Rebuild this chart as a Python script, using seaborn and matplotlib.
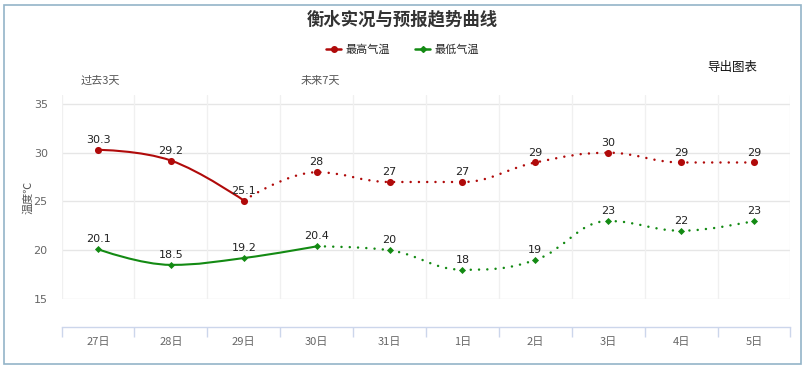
import seaborn as sns
import matplotlib.pyplot as plt
import numpy as np
import pandas as pd
from matplotlib.path import Path
from matplotlib.patches import PathPatch, Rectangle
from matplotlib.lines import Line2D

# --- data ---
days = ["27日", "28日", "29日", "30日", "31日", "1日", "2日", "3日", "4日", "5日"]
t_max = [30.3, 29.2, 25.1, 28, 27, 27, 29, 30, 29, 29]
t_min = [20.1, 18.5, 19.2, 20.4, 20, 18, 19, 23, 22, 23]
max_obs_end = 2   # last observed point of the max series (solid up to here)
min_obs_end = 3   # last observed point of the min series

sns.set_theme(style="white")
plt.rcParams['font.family'] = ['Noto Sans CJK SC', 'DejaVu Sans']

RED = "#b00a0a"
GREEN = "#138a13"
GRID = "#e6e6e6"
AXIS = "#ccd6eb"
PX = 72 / 100  # points per pixel


def spline_path(xs, ys, smoothing=1.5):
    # Highcharts-style spline: cubic bezier segments through the points
    n = len(xs)
    verts = [(xs[0], ys[0])]
    codes = [Path.MOVETO]
    ctrl = []
    for i in range(n):
        if 0 < i < n - 1:
            px, py = xs[i], ys[i]
            lx, ly = xs[i - 1], ys[i - 1]
            nx, ny = xs[i + 1], ys[i + 1]
            d = smoothing + 1
            lcx = (smoothing * px + lx) / d
            lcy = (smoothing * py + ly) / d
            rcx = (smoothing * px + nx) / d
            rcy = (smoothing * py + ny) / d
            if rcx != lcx:
                corr = (rcy - lcy) * (rcx - px) / (rcx - lcx) + py - rcy
                lcy += corr
                rcy += corr
            if lcy > ly and lcy > py:
                lcy = max(ly, py)
                rcy = 2 * py - lcy
            elif lcy < ly and lcy < py:
                lcy = min(ly, py)
                rcy = 2 * py - lcy
            if rcy > ny and rcy > py:
                rcy = max(ny, py)
                lcy = 2 * py - rcy
            elif rcy < ny and rcy < py:
                rcy = min(ny, py)
                lcy = 2 * py - rcy
            ctrl.append(((lcx, lcy), (rcx, rcy)))
        else:
            ctrl.append(((xs[i], ys[i]), (xs[i], ys[i])))
    for i in range(1, n):
        verts += [ctrl[i - 1][1], ctrl[i][0], (xs[i], ys[i])]
        codes += [Path.CURVE4] * 3
    return Path(verts, codes)


fig = plt.figure(figsize=(8.05, 3.69), dpi=100)
ax = fig.add_axes([61.6 / 805, 1 - 299 / 369, 728.8 / 805, 204 / 369])

# spine position first: set_position resets tick settings
for s in ["left", "right", "top"]:
    ax.spines[s].set_visible(False)
ax.spines["bottom"].set_position(("outward", 28 * PX))
ax.spines["bottom"].set_color(AXIS)
ax.spines["bottom"].set_linewidth(1)

x = np.arange(len(days))
df = pd.DataFrame({"x": x, "max": t_max, "min": t_min})

for vals, col, end in [(t_max, RED, max_obs_end), (t_min, GREEN, min_obs_end)]:
    xs = list(x.astype(float))
    ys = [float(v) for v in vals]
    solid = spline_path(xs[:end + 1], ys[:end + 1])
    dotted = spline_path(xs[end:], ys[end:])
    ax.add_patch(PathPatch(solid, fill=False, edgecolor=col, lw=1.5, zorder=3))
    ax.add_patch(PathPatch(dotted, fill=False, edgecolor=col, lw=1.8,
                           linestyle=(0, (0.01, 3.3)), capstyle="round", zorder=3))

sns.scatterplot(data=df, x="x", y="max", ax=ax, color=RED, marker="o", s=26,
                edgecolor=RED, linewidth=0, zorder=4, legend=False)
sns.scatterplot(data=df, x="x", y="min", ax=ax, color=GREEN, marker="D", s=13,
                edgecolor=GREEN, linewidth=0, zorder=4, legend=False)

for xi, v in zip(x, t_max):
    ax.annotate(f"{v:g}", (xi, v), xytext=(0, 3.5), textcoords="offset points",
                ha="center", va="bottom", fontsize=8, color="#222222", family="DejaVu Sans")
for xi, v in zip(x, t_min):
    ax.annotate(f"{v:g}", (xi, v), xytext=(0, 3.5), textcoords="offset points",
                ha="center", va="bottom", fontsize=8, color="#222222", family="DejaVu Sans")

ax.set_xlim(-0.5, len(days) - 0.5)
ax.set_ylim(15, 35.92)
ax.set_yticks([15, 20, 25, 30, 35])
ax.set_yticklabels(["15", "20", "25", "30", "35"], fontsize=8, color="#666666", family="DejaVu Sans")
ax.tick_params(axis="y", length=0, pad=10)
for yv in [15, 20, 25, 30, 35]:
    ax.axhline(yv, color=GRID, lw=1, zorder=1)
for b in np.arange(len(days) + 1) - 0.5:
    ax.axvline(b, color="#f0f0f0", lw=1, zorder=1)

ax.set_xticks(x)
ax.set_xticklabels(days, fontsize=8, color="#666666")
ax.set_xticks(np.arange(len(days) + 1) - 0.5, minor=True)
ax.tick_params(axis="x", which="major", length=0, pad=10 * PX)
ax.tick_params(axis="x", which="minor", length=10 * PX, color=AXIS, width=1, direction="out",
               bottom=True)
ax.set_xlabel("")
ax.set_ylabel("温度℃", fontsize=8, color="#555555", labelpad=0)

# title, legend, notes
fig.text(0.5, 1 - 19 / 369, "衡水实况与预报趋势曲线", ha="center", va="center",
         fontsize=12.5, fontweight="bold", color="#333333")
handles = [Line2D([], [], color=RED, marker="o", markersize=4, lw=1.8),
           Line2D([], [], color=GREEN, marker="D", markersize=3, lw=1.8)]
fig.legend(handles, ["最高气温", "最低气温"], loc="center", bbox_to_anchor=(0.5, 1 - 50 / 369),
           ncol=2, frameon=False, fontsize=8, handlelength=1.4, columnspacing=2.2,
           handletextpad=0.4)
fig.text(100 / 805, 1 - 81 / 369, "过去3天", ha="center", va="center", fontsize=8, color="#555555")
fig.text(320 / 805, 1 - 81 / 369, "未来7天", ha="center", va="center", fontsize=8, color="#555555")
fig.text(732 / 805, 1 - 68 / 369, "导出图表", ha="center", va="center", fontsize=9, color="#111111")

fig.patches.append(Rectangle((4 / 805, 5 / 369), 797 / 805, 359 / 369, transform=fig.transFigure,
                             fill=False, edgecolor="#93b4c8", lw=1.2))

fig.savefig("out.png", dpi=100)
